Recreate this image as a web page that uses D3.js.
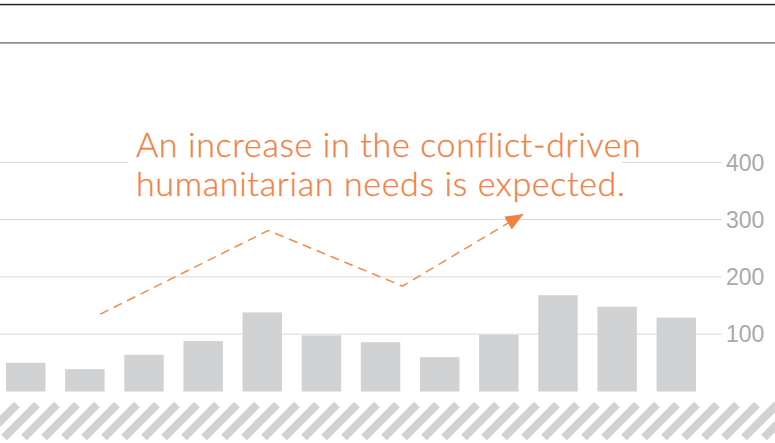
<!DOCTYPE html>
<html>
<head lang="en">
    <meta charset="UTF-8">
    <title>d3</title>
    <style>
        body { margin: 0; background: #fff; }
        svg { display: block; }
        .bar { fill: #d1d2d4; }
        .grid line { stroke: #d9d9d9; stroke-width: 1; }
        .tick-label { fill: #a9a9a9; font-family: "Liberation Sans Narrow", "Liberation Sans", sans-serif; font-size: 23px; }
        .note { fill: #f3803f; font-family: Lato, "Open Sans", sans-serif; font-size: 34px; font-weight: 300; letter-spacing: 0.65px; stroke: #f3803f; stroke-width: 0.3px; }
    </style>
</head>
<body>
<svg width="775" height="443"></svg>

<script src="https://cdn.jsdelivr.net/npm/d3@7"></script>
<script>
    // bar data (no category labels shown in the picture)
    var categories = ["Jan","Feb","Mar","Apr","May","Jun","Jul","Aug","Sep","Oct","Nov","Dec"];
    var values = [50, 39, 64, 88, 138, 98, 86, 60, 99, 168, 148, 129];
    var tickValues = [100, 200, 300, 400];
    var noteLines = ["An increase in the conflict-driven", "humanitarian needs is expected."];
    // dashed trend annotation, as [category index, value]
    var notePath = [[1.26, 135], [4.10, 281], [6.37, 184], [8.40, 309]];

    var svg = d3.select("svg"),
            width = +svg.attr("width"),
            height = +svg.attr("height");

    var x = d3.scaleBand()
            .domain(d3.range(categories.length))
            .range([6, 696])
            .paddingInner(0.333)
            .paddingOuter(0);

    var y = d3.scaleLinear()
            .domain([0, 400])
            .range([391.5, 162.3]);

    // fractional index -> x centre
    var xi = function (i) { return x(0) + x.step() * i + x.bandwidth() / 2; };

    // header rules
    svg.append("rect").attr("x", 0).attr("y", 3).attr("width", width).attr("height", 1).attr("fill", "#d6d6d6");
    svg.append("rect").attr("x", 0).attr("y", 4).attr("width", width).attr("height", 1.3).attr("fill", "#222");
    svg.append("rect").attr("x", 0).attr("y", 42).attr("width", width).attr("height", 1.7).attr("fill", "#8f8f8f");

    // gridlines
    var grid = svg.append("g").attr("class", "grid");
    grid.selectAll("line")
            .data(tickValues)
            .enter()
            .append("line")
            .attr("x1", 0)
            .attr("x2", 722)
            .attr("y1", function (d) { return y(d); })
            .attr("y2", function (d) { return y(d); });

    svg.selectAll(".tick-label")
            .data(tickValues)
            .enter()
            .append("text")
            .attr("class", "tick-label")
            .attr("x", 726)
            .attr("y", function (d) { return y(d); })
            .attr("dy", "0.36em")
            .text(function (d) { return d; });

    // bars
    svg.selectAll(".bar")
            .data(values)
            .enter()
            .append("rect")
            .attr("class", "bar")
            .attr("x", function (d, i) { return x(i); })
            .attr("y", function (d) { return y(d); })
            .attr("width", x.bandwidth())
            .attr("height", function (d) { return y(0) - y(d); });

    // hatched band along the bottom
    var hatch = svg.append("g").attr("stroke", "#d1d2d4").attr("stroke-width", 8);
    hatch.selectAll("line")
            .data(d3.range(-2, 41))
            .enter()
            .append("line")
            .attr("x1", function (k) { return k * 20 - 36; })
            .attr("y1", 437.5)
            .attr("x2", function (k) { return k * 20 - 3; })
            .attr("y2", 404.5);

    // annotation text on a white box that breaks the 400 gridline
    svg.append("rect")
            .attr("x", 128).attr("y", 120)
            .attr("width", 494).attr("height", 86)
            .attr("fill", "#fff");

    var note = svg.append("text").attr("class", "note");
    note.selectAll("tspan")
            .data(noteLines)
            .enter()
            .append("tspan")
            .attr("x", 136)
            .attr("y", function (d, i) { return 157 + i * 39; })
            .text(function (d) { return d; });

    // dashed arrow
    var defs = svg.append("defs");
    defs.append("marker")
            .attr("id", "arrow")
            .attr("markerUnits", "userSpaceOnUse")
            .attr("viewBox", "0 -8 18 16")
            .attr("refX", 17)
            .attr("refY", 0)
            .attr("markerWidth", 18)
            .attr("markerHeight", 16)
            .attr("orient", "auto")
            .append("path")
            .attr("d", "M0,-7.5L18,0L0,7.5Z")
            .attr("fill", "#f3803f");

    var line = d3.line()
            .x(function (d) { return xi(d[0]); })
            .y(function (d) { return y(d[1]); });

    svg.append("path")
            .datum(notePath)
            .attr("d", line)
            .attr("fill", "none")
            .attr("stroke", "#f58a4c")
            .attr("stroke-width", 1.5)
            .attr("stroke-dasharray", "9,6")
            .attr("marker-end", "url(#arrow)");
</script>
</body>
</html>
